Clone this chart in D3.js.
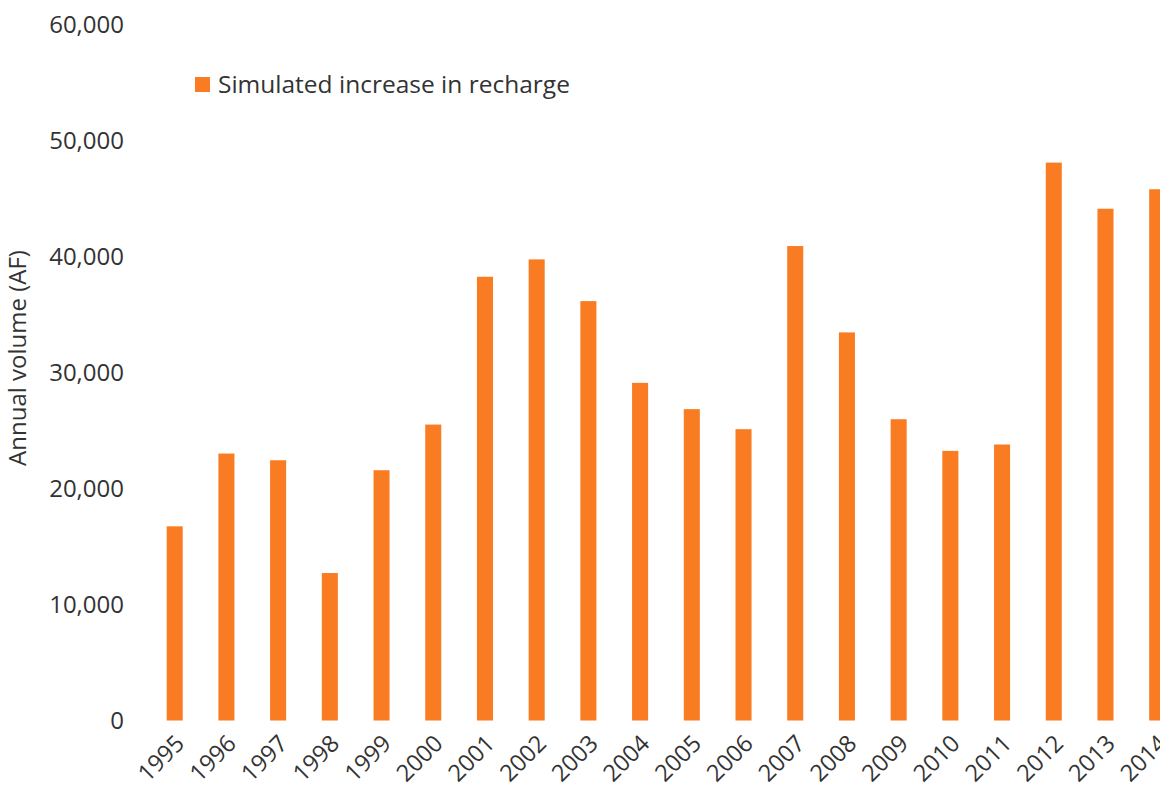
<!DOCTYPE html>
<html>
<head>
<meta charset="utf-8">
<script src="https://cdn.jsdelivr.net/npm/d3@7/dist/d3.min.js"></script>
<style>
  html, body { margin: 0; padding: 0; background: #ffffff; }
  svg { display: block; }
  text { font-family: "Open Sans", "Noto Sans", sans-serif; fill: #333333; }
</style>
</head>
<body>
<svg id="chart" width="1160" height="798"></svg>
<script>
const years = ["1995","1996","1997","1998","1999","2000","2001","2002","2003","2004",
               "2005","2006","2007","2008","2009","2010","2011","2012","2013","2014"];
const recharge = [16750, 23030, 22450, 12720, 21590, 25530, 38280, 39780, 36180, 29130,
                  26860, 25130, 40930, 33480, 25990, 23260, 23810, 48130, 44150, 45830];
const yTicks = [0, 10000, 20000, 30000, 40000, 50000, 60000];
const seriesName = "Simulated increase in recharge";
const yTitle = "Annual volume (AF)";

const svg = d3.select("#chart");
const barColor = "#F97B22";

const x = d3.scaleBand()
  .domain(years)
  .range([148.85, 1183.05])
  .paddingInner(0.69)
  .paddingOuter(0.345);

const y = d3.scaleLinear()
  .domain([0, 60000])
  .range([720.5, 25]);

const fmt = d3.format(",");

// Y axis (labels only)
const yAxis = d3.axisLeft(y).tickValues(yTicks).tickFormat(d => fmt(d)).tickSize(0).tickPadding(0);
const yg = svg.append("g").attr("transform", "translate(124,0)").call(yAxis);
yg.select(".domain").remove();
yg.selectAll("text")
  .style("font-size", "24px")
  .style("font-family", '"Open Sans", "Noto Sans", sans-serif')
  .attr("fill", "#333333");

// Bars
svg.append("g").selectAll("rect")
  .data(years.map((yr, i) => ({ yr, v: recharge[i] })))
  .join("rect")
  .attr("x", d => x(d.yr))
  .attr("width", x.bandwidth())
  .attr("y", d => y(d.v))
  .attr("height", d => y(0) - y(d.v))
  .attr("fill", barColor);

// X axis (rotated labels)
const xAxis = d3.axisBottom(x).tickSize(0).tickPadding(0);
const xg = svg.append("g").attr("transform", "translate(0,728)").call(xAxis);
xg.select(".domain").remove();
xg.selectAll("text")
  .style("font-size", "23.5px")
  .style("font-family", '"Open Sans", "Noto Sans", sans-serif')
  .attr("fill", "#333333")
  .attr("text-anchor", "end")
  .attr("dy", "0")
  .attr("y", 0)
  .attr("transform", "translate(11,17) rotate(-45)");

// Y title
svg.append("text")
  .attr("transform", "translate(26,358) rotate(-90)")
  .attr("text-anchor", "middle")
  .style("font-size", "24px")
  .text(yTitle);

// Legend
const lg = svg.append("g").attr("transform", "translate(195,77)");
lg.append("rect").attr("width", 15).attr("height", 15).attr("fill", barColor);
lg.append("text").attr("x", 23).attr("y", 15.5).style("font-size", "24.5px").text(seriesName);
</script>
</body>
</html>
